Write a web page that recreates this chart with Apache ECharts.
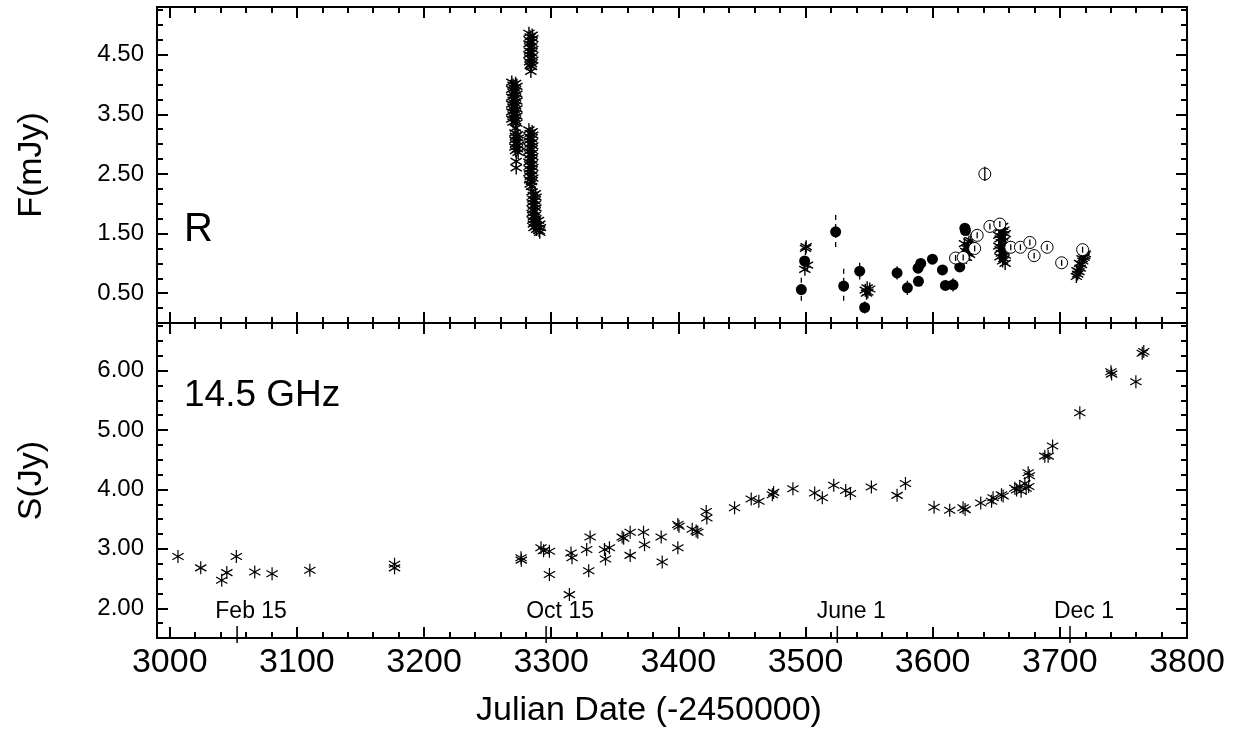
<!DOCTYPE html>
<html>
<head>
<meta charset="utf-8">
<script src="https://cdn.jsdelivr.net/npm/echarts@6/dist/echarts.min.js"></script>
<style>
html, body { margin: 0; padding: 0; background: #fff; }
#chart { width: 1244px; height: 744px; }
</style>
</head>
<body>
<div id="chart"></div>
<script>
// ---- axis ticks ----
var xMajor = [3000, 3100, 3200, 3300, 3400, 3500, 3600, 3700, 3800];
var fMajor = [0.5, 1.5, 2.5, 3.5, 4.5];
var sMajor = [2, 3, 4, 5, 6];

// calendar marks on the bottom axis
var dateJD = [3053, 3296, 3525, 3708];
var dateText = ['Feb 15', 'Oct 15', 'June 1', 'Dec 1'];

// ---- R band (top panel) ----
// asterisks, one pair of arrays per night cluster
var starA_JD = [3269, 3272, 3270, 3273, 3271, 3269, 3272, 3270, 3273, 3271, 3269, 3272, 3270, 3273, 3271,
                3269, 3272, 3270, 3273, 3271, 3269, 3272, 3270, 3273, 3271, 3269, 3272, 3270, 3273];
var starA_F  = [4.04, 4.02, 3.99, 3.97, 3.94, 3.92, 3.89, 3.87, 3.84, 3.82, 3.79, 3.77, 3.74, 3.72, 3.69,
                3.67, 3.64, 3.62, 3.59, 3.57, 3.54, 3.52, 3.49, 3.47, 3.44, 3.42, 3.39, 3.37, 3.35];
var starA2_JD = [3272, 3272, 3271.5, 3273.5, 3272, 3274, 3271.5, 3273.5, 3272, 3274, 3271.5, 3273.5, 3272, 3274, 3272.5, 3272.5];
var starA2_F  = [3.27, 3.13, 3.19, 3.16, 3.13, 3.10, 3.07, 3.04, 3.01, 2.98, 2.95, 2.92, 2.89, 2.86, 2.71, 2.60];
var starB_JD = [3282.5, 3285, 3283.5, 3285.5, 3283, 3284.5, 3282.5, 3285, 3283.5, 3285.5, 3283, 3284.5, 3282.5, 3285,
                3283.5, 3285.5, 3283, 3284.5, 3283.5, 3284.5, 3284];
var starB_F  = [4.86, 4.83, 4.80, 4.77, 4.74, 4.71, 4.68, 4.65, 4.62, 4.59, 4.56, 4.53, 4.50, 4.47,
                4.44, 4.41, 4.38, 4.35, 4.32, 4.30, 4.22];
var starC_JD = [3282.5, 3285, 3283.5, 3285.5, 3283, 3284.5, 3282.5, 3285, 3283.5, 3285.5, 3283, 3284.5, 3282.5, 3285, 3283.5, 3285.5,
                3283, 3284.5, 3282.5, 3285, 3283.5, 3285.5, 3283, 3284.5, 3282.5, 3285, 3283.5, 3285.5, 3283, 3284.5, 3283.5, 3284.5];
var starC_F  = [3.24, 3.21, 3.18, 3.15, 3.12, 3.09, 3.06, 3.03, 3.00, 2.97, 2.94, 2.91, 2.88, 2.85, 2.82, 2.79,
                2.76, 2.73, 2.70, 2.67, 2.64, 2.61, 2.58, 2.55, 2.52, 2.49, 2.46, 2.43, 2.40, 2.37, 2.33, 2.29];
var starD_JD = [3285, 3287.5, 3286, 3288, 3285.5, 3287, 3285, 3287.5, 3286, 3288, 3285.5, 3287, 3285, 3287.5,
                3286, 3288, 3285.5, 3287, 3286, 3288, 3286.5, 3288.5, 3290, 3291, 3291.5, 3290.5, 3291];
var starD_F  = [2.20, 2.17, 2.14, 2.11, 2.08, 2.05, 2.02, 1.99, 1.96, 1.93, 1.90, 1.87, 1.84, 1.81,
                1.78, 1.75, 1.72, 1.69, 1.66, 1.63, 1.60, 1.57, 1.72, 1.66, 1.60, 1.55, 1.52];
var starE_JD = [3500, 3500.5, 3501.5, 3499.5, 3547, 3549, 3550.5, 3548, 3548.5];
var starE_F  = [1.25, 1.28, 0.97, 0.90, 0.55, 0.52, 0.57, 0.50, 0.59];
var starF_JD = [3624, 3626, 3628, 3630, 3627, 3629, 3631, 3625, 3626.5, 3628.5, 3630.5, 3627.5];
var starF_F  = [1.12, 1.20, 1.30, 1.38, 1.25, 1.15, 1.22, 1.33, 1.10, 1.36, 1.28, 1.18];
var starG_JD = [3652, 3655, 3653, 3656, 3654, 3657, 3652, 3655, 3653, 3656, 3654, 3657, 3652, 3655, 3653, 3656,
                3654, 3657, 3653, 3656, 3655, 3657];
var starG_F  = [1.65, 1.62, 1.59, 1.56, 1.53, 1.50, 1.47, 1.44, 1.41, 1.38, 1.35, 1.32, 1.29, 1.26, 1.23, 1.20,
                1.17, 1.14, 1.11, 1.08, 1.04, 1.00];
var starH_JD = [3713, 3714, 3715, 3716, 3717, 3718, 3719, 3720, 3713.5, 3715.5, 3717.5, 3719.5];
var starH_F  = [0.78, 0.82, 0.86, 0.92, 0.98, 1.04, 1.10, 1.16, 0.88, 1.00, 1.08, 1.13];

// filled circles with errors
var rDotJD  = [3496.7, 3499.3, 3523.7, 3530, 3542.6, 3546.5, 3572, 3580.1, 3588.5, 3590.6, 3588.8, 3599.8, 3607.7, 3610, 3616, 3621.3, 3625.3, 3625.8];
var rDotF   = [0.56, 1.04, 1.53, 0.62, 0.87, 0.26, 0.84, 0.59, 0.92, 1.00, 0.70, 1.07, 0.89, 0.63, 0.64, 0.94, 1.59, 1.55];
var rDotErr = [0.20, 0.06, 0.28, 0.29, 0.14, 0.10, 0.11, 0.12, 0.08, 0.08, 0.08, 0.06, 0.06, 0.08, 0.11, 0.08, 0.08, 0.06];
// open circles
var rOpenJD  = [3618, 3624, 3633, 3635, 3641, 3645, 3652.8, 3661.4, 3669, 3676.4, 3679.8, 3690, 3701.4, 3717.9];
var rOpenF   = [1.09, 1.10, 1.25, 1.47, 2.50, 1.62, 1.66, 1.27, 1.27, 1.35, 1.13, 1.27, 1.01, 1.23];
var rOpenErr = [0.05, 0.05, 0.05, 0.05, 0.12, 0.05, 0.05, 0.05, 0.05, 0.05, 0.05, 0.05, 0.05, 0.05];

// ---- 14.5 GHz (bottom panel) ----
var radioJD = [
  3006.5, 3024.4, 3040.9, 3044.9, 3052.4, 3066.9, 3080.5, 3110.2, 3176.8, 3176.8,
  3276.3, 3276.5, 3292.0, 3294, 3298.6, 3298.6, 3314.3, 3315.6, 3316.4, 3327.9,
  3330.6, 3329.5, 3341.9, 3342.7, 3345.8, 3355.8, 3357, 3362.1, 3362.1, 3372.6,
  3373.4, 3386.5, 3387.3, 3399.6, 3400.5, 3399.6, 3410.9, 3415.3, 3414, 3421.9,
  3422.4, 3444.2, 3457.3, 3463.3, 3473.9, 3474.9, 3490.1, 3507.2, 3513.2,
  3522.2, 3531.6, 3535.3, 3551.8, 3572, 3578.6, 3601.1, 3613.4, 3623.9, 3625.5,
  3637.8, 3646.3, 3647.5, 3654.1, 3655.4, 3664.6, 3666, 3668.5, 3669.5, 3672.5,
  3673.5, 3675.1, 3676, 3675.5, 3688.2, 3690.8, 3694.3, 3715.7, 3740.2, 3740.7,
  3759.8, 3764.8, 3766
];
var radioS = [
  2.87, 2.68, 2.47, 2.60, 2.87, 2.61, 2.58, 2.64, 2.74, 2.68,
  2.85, 2.81, 3.02, 2.97, 2.96, 2.57, 2.23, 2.93, 2.85, 2.99,
  3.20, 2.63, 2.99, 2.83, 3.02, 3.20, 3.18, 3.28, 2.89, 3.28,
  3.07, 3.20, 2.78, 3.41, 3.38, 3.02, 3.33, 3.28, 3.30, 3.63,
  3.52, 3.69, 3.84, 3.80, 3.91, 3.95, 4.01, 3.94, 3.86,
  4.07, 3.98, 3.93, 4.04, 3.90, 4.10, 3.70, 3.65, 3.69, 3.66,
  3.77, 3.80, 3.86, 3.91, 3.89, 4.02, 3.99, 4.05, 3.97, 4.10,
  4.02, 4.28, 4.23, 4.05, 4.56, 4.56, 4.73, 5.29, 5.98, 5.94,
  5.81, 6.29, 6.32
];

var xMin = 2990, xMax = 3800;
var fMin = 0, fMax = 5.3;
var sMin = 1.5, sMax = 6.8;

var FONT = '"Liberation Sans", Arial, sans-serif';
var star = 'path://M5 0 L5 10 M0.67 2.5 L9.33 7.5 M0.67 7.5 L9.33 2.5';

var rStarJD = [].concat(starA_JD, starA2_JD, starB_JD, starC_JD, starD_JD, starE_JD, starF_JD, starG_JD, starH_JD);
var rStarF = [].concat(starA_F, starA2_F, starB_F, starC_F, starD_F, starE_F, starF_F, starG_F, starH_F);

// minor tick positions (between the labelled ones)
var xMinor = [];
for (var v = 3000; v <= 3800; v += 20) if (v % 100 !== 0) xMinor.push(v);
var fMinor = [];
for (var k = 1; k <= 21; k++) if (k % 4 !== 2) fMinor.push(k * 0.25);
var sMinor = [];
for (var k = 7; k <= 27; k++) if (k % 4 !== 0) sMinor.push(k * 0.25);

function xAx(grid, pos, ticks, len, opts) {
  var a = {
    type: 'value', gridIndex: grid, position: pos, min: xMin, max: xMax,
    axisLine: { show: true, onZero: false, lineStyle: { color: '#000', width: 2 } },
    axisTick: { show: true, inside: true, length: len, customValues: ticks, lineStyle: { color: '#000', width: 2 } },
    axisLabel: { show: false },
    splitLine: { show: false }
  };
  return Object.assign(a, opts || {});
}
function yAx(grid, pos, lo, hi, ticks, len, opts) {
  var a = {
    type: 'value', gridIndex: grid, position: pos, min: lo, max: hi,
    axisLine: { show: true, onZero: false, lineStyle: { color: '#000', width: 2 } },
    axisTick: { show: true, inside: true, length: len, customValues: ticks, lineStyle: { color: '#000', width: 2 } },
    axisLabel: { show: false },
    splitLine: { show: false }
  };
  return Object.assign(a, opts || {});
}

function errBars(jd, val, err, xi, yi, z) {
  return {
    type: 'custom', xAxisIndex: xi, yAxisIndex: yi, z: z, silent: true,
    data: jd.map(function (x, i) { return [x, val[i], err[i]]; }),
    renderItem: function (params, api) {
      var x = api.value(0), y = api.value(1), e = api.value(2);
      var p1 = api.coord([x, y + e]), p2 = api.coord([x, y - e]);
      return {
        type: 'line',
        shape: { x1: p1[0], y1: p1[1], x2: p2[0], y2: p2[1] },
        style: { stroke: '#000', lineWidth: 1.3, lineDash: e >= 0.2 ? [5, 4] : null }
      };
    }
  };
}

var chart = echarts.init(document.getElementById('chart'), null, { renderer: 'canvas' });

var option = {
  animation: false,
  backgroundColor: '#fff',
  textStyle: { fontFamily: FONT, color: '#000' },
  grid: [
    { left: 157, right: 57, top: 7, height: 316, outerBoundsMode: 'none' },
    { left: 157, right: 57, top: 323, height: 315, outerBoundsMode: 'none' }
  ],
  xAxis: [
    xAx(0, 'bottom', xMajor, 11),
    xAx(0, 'bottom', xMinor, 6),
    xAx(0, 'top', xMajor, 11),
    xAx(0, 'top', xMinor, 6),
    xAx(1, 'bottom', xMajor, 11, {
      axisLabel: {
        show: true, customValues: xMajor, margin: 8,
        fontSize: 34, fontFamily: FONT, color: '#000',
        formatter: function (v) { return String(v); }
      },
      name: 'Julian Date (-2450000)', nameLocation: 'middle', nameGap: 56,
      nameMoveOverlap: false,
      nameTextStyle: { fontSize: 34, fontFamily: FONT, color: '#000', padding: [0, 46, 0, 0] }
    }),
    xAx(1, 'bottom', xMinor, 6),
    xAx(1, 'top', xMajor, 11),
    xAx(1, 'top', xMinor, 6)
  ],
  yAxis: [
    yAx(0, 'left', fMin, fMax, fMajor, 11, {
      axisLabel: {
        show: true, customValues: fMajor, margin: 13,
        fontSize: 24, fontFamily: FONT, color: '#000',
        formatter: function (v) { return v.toFixed(2); }
      },
      name: 'F(mJy)', nameLocation: 'middle', nameGap: 108, nameMoveOverlap: false,
      nameTextStyle: { fontSize: 34, fontFamily: FONT, color: '#000' }
    }),
    yAx(0, 'left', fMin, fMax, fMinor, 6),
    yAx(0, 'right', fMin, fMax, fMajor, 11),
    yAx(0, 'right', fMin, fMax, fMinor, 6),
    yAx(1, 'left', sMin, sMax, sMajor, 11, {
      axisLabel: {
        show: true, customValues: sMajor, margin: 13,
        fontSize: 24, fontFamily: FONT, color: '#000',
        formatter: function (v) { return v.toFixed(2); }
      },
      name: 'S(Jy)', nameLocation: 'middle', nameGap: 108, nameMoveOverlap: false,
      nameTextStyle: { fontSize: 34, fontFamily: FONT, color: '#000' }
    }),
    yAx(1, 'left', sMin, sMax, sMinor, 6),
    yAx(1, 'right', sMin, sMax, sMajor, 11),
    yAx(1, 'right', sMin, sMax, sMinor, 6)
  ],
  graphic: [
    { type: 'text', x: 184, y: 230, style: { text: 'R', font: '40px ' + FONT, fill: '#000', verticalAlign: 'middle' } },
    { type: 'text', x: 184, y: 396, style: { text: '14.5 GHz', font: '37px ' + FONT, fill: '#000', verticalAlign: 'middle' } }
  ],
  series: [
    errBars(rDotJD, rDotF, rDotErr, 0, 0, 2),
    {
      type: 'scatter', xAxisIndex: 0, yAxisIndex: 0, z: 3,
      data: rStarJD.map(function (x, i) { return [x, rStarF[i]]; }),
      symbol: star, symbolSize: 13, symbolKeepAspect: true,
      itemStyle: { color: 'rgba(0,0,0,0)', borderColor: '#000', borderWidth: 1.4, opacity: 1 }
    },
    {
      type: 'scatter', xAxisIndex: 0, yAxisIndex: 0, z: 4,
      data: rDotJD.map(function (x, i) { return [x, rDotF[i]]; }),
      symbol: 'circle', symbolSize: 11,
      itemStyle: { color: '#000', opacity: 1 }
    },
    {
      type: 'scatter', xAxisIndex: 0, yAxisIndex: 0, z: 5,
      data: rOpenJD.map(function (x, i) { return [x, rOpenF[i]]; }),
      symbol: 'circle', symbolSize: 12,
      itemStyle: { color: '#fff', borderColor: '#000', borderWidth: 1, opacity: 1 }
    },
    errBars(rOpenJD, rOpenF, rOpenErr, 0, 0, 6),
    {
      type: 'scatter', xAxisIndex: 4, yAxisIndex: 4, z: 3,
      data: radioJD.map(function (x, i) { return [x, radioS[i]]; }),
      symbol: star, symbolSize: 13, symbolKeepAspect: true,
      itemStyle: { color: 'rgba(0,0,0,0)', borderColor: '#000', borderWidth: 1.2, opacity: 1 }
    },
    {
      // calendar dates marked along the bottom axis
      type: 'custom', xAxisIndex: 4, yAxisIndex: 4, z: 7, clip: false, silent: true,
      data: dateJD.map(function (x) { return [x, sMin]; }),
      renderItem: function (params, api) {
        var p = api.coord([api.value(0), api.value(1)]);
        return {
          type: 'group',
          children: [
            { type: 'line', shape: { x1: p[0], y1: p[1] - 12, x2: p[0], y2: p[1] + 5 }, style: { stroke: '#000', lineWidth: 1.5 } },
            { type: 'text', x: p[0] + 14, y: p[1] - 26,
              style: { text: dateText[params.dataIndex], font: '23px ' + FONT, fill: '#000', align: 'center', verticalAlign: 'middle' } }
          ]
        };
      }
    }
  ]
};

chart.setOption(option);
</script>
</body>
</html>
